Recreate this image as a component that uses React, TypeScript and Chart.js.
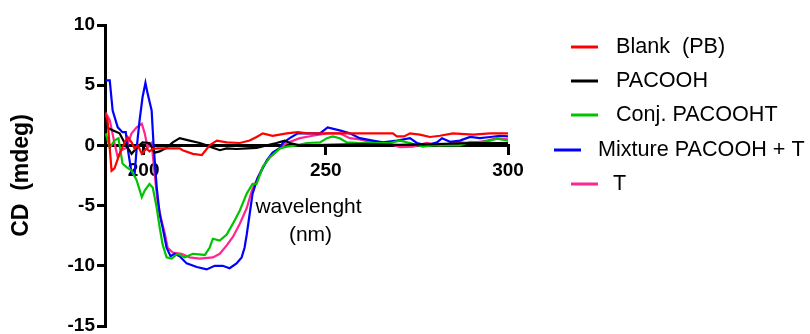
import React, { useEffect, useRef } from 'react';
import { Chart, registerables } from 'chart.js';

Chart.register(...registerables);

const FONT = '"Liberation Sans", Arial, Helvetica, sans-serif';

// ---- data ----
const seriesLabels = ['Blank  (PB)', 'PACOOH', 'Conj. PACOOHT', 'Mixture PACOOH + T', 'T'];
const seriesColors = ['#ff0000', '#000000', '#00c400', '#0000ff', '#ff2690'];

const xTickValues = [200, 250, 300];
const yTickStep = 5;
const xTitleLines = ['wavelenght', '(nm)'];
const yTitle = 'CD  (mdeg)';

const blankWl = [189.4, 190.1, 191.2, 192.0, 193.4, 194.8, 195.6, 196.7, 197.5, 198.4, 199.5, 200.8, 201.6, 202.5, 203.8, 209.9, 210.7, 213.5, 216.0, 218.1, 220.1, 222.8, 226.4, 229.1, 231.0, 232.7, 235.4, 239.3, 242.3, 245, 250, 255, 260, 265, 268.4, 269.5, 271.5, 273.1, 275.8, 278.6, 281.3, 284.9, 290.4, 295.1, 300];
const blankCd = [2.7, 2.1, -2.1, -1.9, -0.7, 0.25, 0.7, 0.25, -0.25, 0, -0.7, -0.25, -0.5, -0.3, -0.25, -0.25, -0.4, -0.7, -0.8, 0, 0.4, 0.25, 0.2, 0.4, 0.7, 1.0, 0.8, 1.0, 1.1, 1.0, 1.0, 1.0, 1.0, 1.0, 1.0, 0.75, 0.75, 1.0, 0.9, 0.7, 0.8, 1.0, 0.9, 1.0, 1.0];

const pacoohWl = [189.8, 191.5, 193.4, 194.8, 196.7, 198.1, 199.7, 201.6, 203.0, 204.4, 206.3, 208.0, 209.9, 212.6, 215.4, 217.3, 219.0, 220.9, 222.8, 225.5, 228.3, 231.0, 233.8, 236.5, 238.7, 240.1, 242.9, 250, 260, 270, 280, 290, 300];
const pacoohCd = [1.5, 1.25, 1.0, 0.2, -0.7, -0.2, 0.25, 0.2, -0.6, -0.5, -0.2, 0.25, 0.6, 0.4, 0.2, 0, -0.2, -0.4, -0.25, -0.3, -0.25, -0.2, 0, 0.2, 0.4, 0.2, 0, 0.05, 0.1, 0.05, 0.1, 0.2, 0.2];

const conjWl = [189.6, 190.7, 192.0, 193.1, 194.2, 195.3, 196.7, 198.1, 199.5, 200.3, 201.6, 202.5, 203.6, 204.4, 205.2, 206.3, 207.7, 209.3, 211.3, 213.5, 216.8, 218.1, 219.0, 220.9, 222.8, 224.5, 226.4, 228.3, 229.9, 231.0, 232.7, 234.6, 237.4, 239.3, 242.0, 244.8, 248.4, 250.3, 251.9, 253.8, 255.8, 259.3, 262.9, 267.6, 270.3, 273.1, 276.6, 279.4, 283.2, 286.8, 289.6, 292.3, 295.1, 297.0, 300];
const conjCd = [1.0, -0.2, 0.4, 0.6, -1.5, -1.8, -2.1, -2.9, -4.3, -3.75, -3.2, -3.5, -5.2, -6.8, -8.2, -9.3, -9.4, -9.0, -9.3, -9.0, -9.1, -8.5, -7.75, -7.9, -7.4, -6.5, -5.4, -4.0, -3.2, -3.2, -1.8, -1.0, -0.25, -0.1, 0, 0.2, 0.25, 0.6, 0.75, 0.6, 0.25, 0.2, 0.2, 0.2, 0.4, 0.2, -0.1, 0, 0, 0, 0.3, 0.25, 0.4, 0.55, 0.4];

const mixWl = [189.6, 190.7, 191.5, 192.9, 194.2, 195.1, 195.6, 196.7, 197.5, 198.1, 198.9, 199.7, 200.5, 201.1, 202.2, 202.7, 203.6, 204.4, 205.2, 206.3, 207.4, 208.5, 209.9, 211.8, 214.6, 217.3, 219.5, 221.7, 223.6, 225.5, 226.9, 227.7, 228.3, 229.1, 229.9, 231.3, 233.8, 235.4, 237.4, 238.2, 240.1, 242.3, 244.8, 248.4, 250.5, 253.8, 256.6, 259.3, 262.9, 265.7, 269.5, 273.1, 275.0, 277.7, 280.5, 281.9, 284.1, 286.8, 289.6, 292.3, 295.1, 297.8, 300];
const mixCd = [5.4, 5.4, 2.9, 1.5, 1.1, 1.1, -0.2, -2.3, -2.5, -0.2, 2.1, 4.0, 5.2, 4.3, 2.9, 0.2, -3.5, -5.7, -6.8, -8.5, -9.2, -9.0, -9.2, -9.8, -10.1, -10.3, -10.0, -10.0, -10.2, -9.8, -9.3, -8.5, -7.4, -5.7, -4.0, -2.7, -1.25, -0.6, -0.2, 0.2, 0.6, 1.0, 1.0, 1.0, 1.5, 1.25, 1.0, 0.6, 0.4, 0.25, 0.4, 0.6, 0.2, 0.0, 0.25, 0.6, 0.3, 0.4, 0.7, 0.6, 0.7, 0.8, 0.75];

const tWl = [189.6, 190.7, 192.0, 192.9, 193.9, 195.3, 196.7, 198.1, 199.5, 200.3, 201.1, 202.2, 203.0, 203.8, 204.9, 205.8, 206.6, 208.0, 210.4, 212.6, 215.4, 219.0, 220.9, 222.8, 224.5, 226.4, 228.3, 229.7, 231.0, 232.7, 234.6, 237.4, 239.3, 242.9, 246.4, 250.3, 253.8, 256.6, 259.3, 262.9, 266.8, 270.3, 273.9, 277.7, 281.3, 286.8, 290.4, 294.2, 297.0, 300];
const tCd = [2.7, 2.1, 0.2, -1.0, -0.4, -0.2, 1.0, 1.5, 1.8, 1.0, -0.2, 0.2, -2.3, -4.6, -6.25, -7.3, -8.5, -8.9, -9.0, -9.3, -9.4, -9.3, -9.0, -8.3, -7.6, -6.5, -5.2, -3.75, -2.9, -1.8, -1.0, -0.25, 0.2, 0.6, 0.8, 1.0, 1.0, 0.6, 0.5, 0.25, 0.2, -0.15, -0.1, 0.2, 0, 0.25, 0.2, 0.4, 0.6, 0.5];

const seriesWl = [blankWl, pacoohWl, conjWl, mixWl, tWl];
const seriesCd = [blankCd, pacoohCd, conjCd, mixCd, tCd];

// ---- layout (legend placement) ----
const legendRows = [
  { lineX: 571, textX: 616, y: 47 },
  { lineX: 571, textX: 616, y: 81 },
  { lineX: 571, textX: 616, y: 115 },
  { lineX: 554, textX: 598, y: 150 },
  { lineX: 571, textX: 613, y: 184 },
];

const overlayPlugin = {
  id: 'overlayText',
  afterDraw(chart: any) {
    const ctx = chart.ctx;
    const xs = chart.scales.x;
    const ys = chart.scales.y;
    ctx.save();
    ctx.fillStyle = '#000';
    ctx.font = `21px ${FONT}`;
    ctx.textAlign = 'center';
    ctx.textBaseline = 'alphabetic';
    const cx = (xs.left + xs.right) / 2 + 2;
    ctx.fillText(xTitleLines[0], cx, ys.getPixelForValue(-5.6));
    ctx.fillText(xTitleLines[1], cx + 2, ys.getPixelForValue(-7.9));
    ctx.textAlign = 'left';
    ctx.textBaseline = 'middle';
    ctx.font = `21.6px ${FONT}`;
    chart.data.datasets.forEach((ds: any, i: number) => {
      const r = legendRows[i];
      ctx.strokeStyle = ds.borderColor;
      ctx.lineWidth = 3;
      ctx.beginPath();
      ctx.moveTo(r.lineX, r.y);
      ctx.lineTo(r.lineX + 27, r.y);
      ctx.stroke();
      ctx.fillStyle = '#000';
      ctx.fillText(ds.label, r.textX, r.y);
    });
    ctx.restore();
  },
};

export default function App() {
  const ref = useRef<HTMLCanvasElement>(null);
  useEffect(() => {
    if (!ref.current) return;
    const datasets = seriesLabels.map((label, i) => ({
      label,
      data: seriesWl[i].map((w, j) => ({ x: w, y: seriesCd[i][j] })),
      borderColor: seriesColors[i],
      backgroundColor: seriesColors[i],
      borderWidth: 2.2,
      pointRadius: 0,
      tension: 0,
      fill: false,
    }));
    const chart = new Chart(ref.current, {
      type: 'line',
      data: { datasets },
      plugins: [overlayPlugin],
      options: {
        animation: false,
        responsive: false,
        devicePixelRatio: 1,
        layout: { padding: { top: 25, bottom: 24, left: 0, right: 302 } },
        plugins: { legend: { display: false }, tooltip: { enabled: false } },
        scales: {
          x: {
            type: 'linear',
            min: 189.4,
            max: 300,
            position: { y: 0 } as any,
            afterBuildTicks: (s: any) => {
              s.ticks = xTickValues.map((v) => ({ value: v }));
            },
            grid: { drawOnChartArea: false, drawTicks: true, tickLength: 8, color: '#000', lineWidth: 3 },
            border: { display: true, color: '#000', width: 3 },
            ticks: { color: '#000', padding: 6, font: { family: FONT, size: 19, weight: 'bold' }, maxRotation: 0 },
          },
          y: {
            type: 'linear',
            min: -15,
            max: 10,
            afterFit: (s: any) => {
              s.width = 105;
            },
            grid: { drawOnChartArea: false, drawTicks: true, tickLength: 8, color: '#000', lineWidth: 3 },
            border: { display: true, color: '#000', width: 3 },
            ticks: { stepSize: yTickStep, color: '#000', padding: 2, font: { family: FONT, size: 19, weight: 'bold' } },
            title: {
              display: true,
              text: yTitle,
              color: '#000',
              padding: { top: 8, bottom: 0 },
              font: { family: FONT, size: 23, weight: 'bold', lineHeight: 1.2 },
            },
          },
        },
      },
    } as any);
    return () => chart.destroy();
  }, []);
  return (
    <div style={{ position: 'fixed', left: 0, top: 0, width: 810, height: 350, background: '#fff' }}>
      <canvas ref={ref} width={810} height={350} style={{ display: 'block' }} />
    </div>
  );
}
